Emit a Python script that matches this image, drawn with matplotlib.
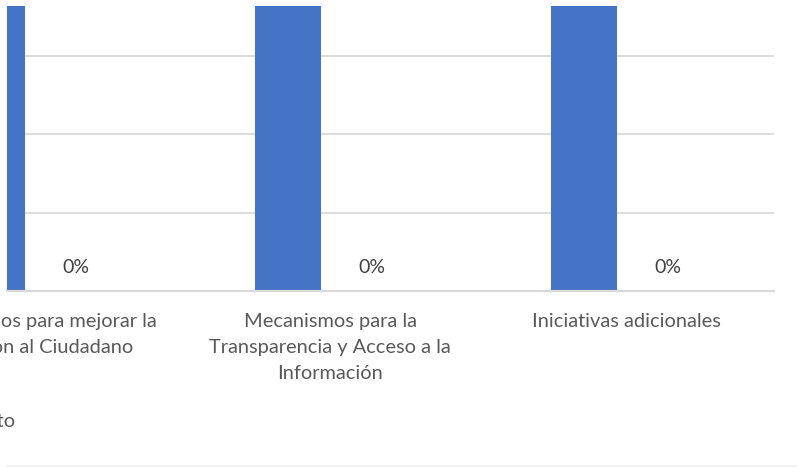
import matplotlib
matplotlib.use("Agg")
import matplotlib.pyplot as plt
import numpy as np

plt.rcParams['font.family'] = ['Lato', 'DejaVu Sans']

categories = ["Mecanismos para mejorar la\nAtención al Ciudadano",
              "Mecanismos para la\nTransparencia y Acceso a la\nInformación",
              "Iniciativas adicionales"]
serie_1 = [1.0, 1.0, 1.0]
serie_2 = [0.0, 0.0, 0.0]
labels_2 = ["0%", "0%", "0%"]

W, H = 797, 467
fig = plt.figure(figsize=(W / 100, H / 100), dpi=100)
ax = fig.add_axes([7 / W, (H - 291) / H, (774 - 7) / W, (291 - 6) / H])

x = np.arange(len(categories))
off = 42 / 296
bw = 66 / 296

ax.set_axisbelow(True)
b1 = ax.bar(x - off, serie_1, width=bw, color="#4472C4", zorder=2)
b2 = ax.bar(x + off, serie_2, width=bw, color="#ED7D31", zorder=2)
ax.bar_label(b2, labels=labels_2, padding=11, fontsize=14, color="#404040")

ax.set_xlim((7 - 34) / 296, (774 - 34) / 296)
ax.set_ylim(0, 0.2 * 285 / 78.3)
ax.set_yticks([0.2, 0.4, 0.6])
ax.yaxis.grid(True, color="#D9D9D9", linewidth=1.3)
ax.tick_params(axis="y", left=False, labelleft=False)
ax.set_xticks(x)
ax.set_xticklabels(categories, fontsize=14.4, color="#595959")
for t in ax.get_xticklabels():
    t.set_linespacing(1.62)
ax.tick_params(axis="x", length=0, pad=16)
for s in ["top", "right", "left"]:
    ax.spines[s].set_visible(False)
ax.spines["bottom"].set_color("#D9D9D9")
ax.spines["bottom"].set_linewidth(1.6)

# legend fragment at the far left
fig.text(15 / W, (H - 421) / H, "Cumplimiento", ha="right", va="center",
         fontsize=14.4, color="#595959")
fig.add_artist(plt.Line2D([7 / W, 1], [(H - 466) / H] * 2, color="#EFEFEF",
                          linewidth=1.2))

fig.savefig("out.png", dpi=100, facecolor="white")
